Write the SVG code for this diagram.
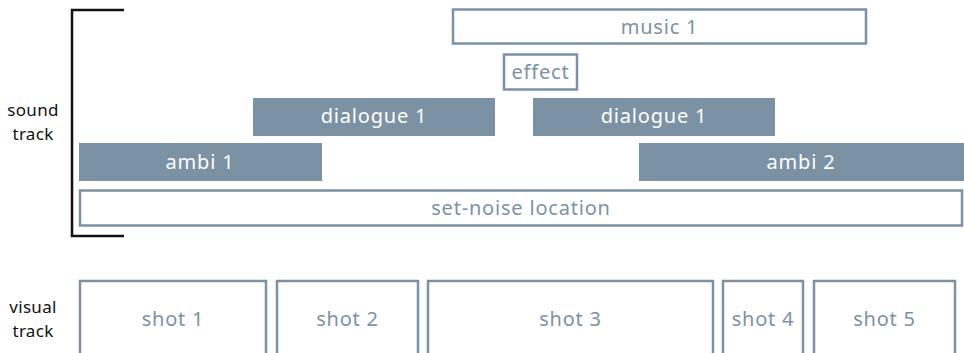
<svg xmlns="http://www.w3.org/2000/svg" width="964" height="353" viewBox="0 0 964 353">
<style>
.o{fill:#fff;stroke:#7b92a4;stroke-width:2.5}
.f{fill:#7b92a4;stroke:none}
.t{font-family:"Noto Sans",Lato,sans-serif;font-size:20px;letter-spacing:0.8px;text-anchor:middle}
.to{fill:#7b92a4}
.tf{fill:#fff}
.lab{font-family:"Noto Sans",Lato,sans-serif;font-size:17px;letter-spacing:0.3px;fill:#111;text-anchor:middle}
</style>
<rect width="964" height="353" fill="#fff"/>
<g id="bracket"><path d="M124 10H72V236H124" fill="none" stroke="#111" stroke-width="2.5"/></g>
<g id="label-sound"><text class="lab" x="33" y="116">sound</text><text class="lab" x="33" y="140">track</text></g>
<g id="label-visual"><text class="lab" x="33" y="313">visual</text><text class="lab" x="33" y="337">track</text></g>
<g id="music1"><rect class="o" x="453" y="9.5" width="413" height="34"/><text class="t to" x="659.5" y="34">music 1</text></g>
<g id="effect"><rect class="o" x="504" y="54.5" width="73" height="35"/><text class="t to" x="540.5" y="79">effect</text></g>
<g id="dialogue1a"><rect class="f" x="253" y="98" width="242" height="38"/><text class="t tf" x="374" y="123">dialogue 1</text></g>
<g id="dialogue1b"><rect class="f" x="533" y="98" width="242" height="38"/><text class="t tf" x="654" y="123">dialogue 1</text></g>
<g id="ambi1"><rect class="f" x="79" y="143" width="243" height="38"/><text class="t tf" x="200" y="169">ambi 1</text></g>
<g id="ambi2"><rect class="f" x="639" y="143" width="325" height="38"/><text class="t tf" x="801" y="169">ambi 2</text></g>
<g id="setnoise"><rect class="o" x="80" y="190.5" width="882" height="35"/><text class="t to" x="521" y="215">set-noise location</text></g>
<g id="shot1"><rect class="o" x="80" y="281" width="186" height="90"/><text class="t to" x="173" y="326">shot 1</text></g>
<g id="shot2"><rect class="o" x="277" y="281" width="141" height="90"/><text class="t to" x="347.5" y="326">shot 2</text></g>
<g id="shot3"><rect class="o" x="428" y="281" width="285" height="90"/><text class="t to" x="570.5" y="326">shot 3</text></g>
<g id="shot4"><rect class="o" x="723" y="281" width="80" height="90"/><text class="t to" x="763" y="326">shot 4</text></g>
<g id="shot5"><rect class="o" x="814" y="281" width="141" height="90"/><text class="t to" x="884.5" y="326">shot 5</text></g>
<g id="connectors"></g>
</svg>
